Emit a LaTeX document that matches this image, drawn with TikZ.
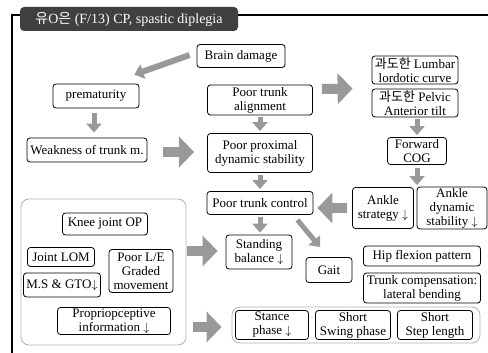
\documentclass[tikz,border=0pt]{standalone}
\usepackage{fontspec}
\setmainfont{Liberation Serif}
\newfontfamily\kr{Noto Sans CJK KR}
\usetikzlibrary{arrows.meta,calc}

\begin{document}
\begin{tikzpicture}[
    x=1pt, y=-1pt,
    font=\fontsize{13}{14}\selectfont,
    box/.style={
        draw,
        rounded corners=3pt,
        fill=white,
        line width=0.8pt,
        align=center,
        inner sep=1pt
    },
    group/.style={
        draw=gray!60,
        rounded corners=8pt,
        line width=0.8pt
    },
    arrowS/.style={
        draw=gray!80,
        line width=5pt,
        -{Triangle[width=15pt,length=9pt]}
    },
    arrowB/.style={
        draw=gray!80,
        line width=10pt,
        -{Triangle[width=30pt,length=15pt]}
    }
]
\useasboundingbox (0,0) rectangle (488,353);

% Frame and title
\draw[line width=2.5pt] (12,353) -- (12,15) -- (488,15);
\node[fill=black!75, text=white, rounded corners=4pt, minimum width=218, minimum height=24, font=\fontsize{14}{14}\selectfont] (title) at (129,19) {{\kr 유}O{\kr 은} (F/13) CP, spastic diplegia};

% Groups
\node[group, minimum width=165, minimum height=146] (causes) at (103.5,272) {};
\node[group, minimum width=248, minimum height=36] (gaitdev) at (356,325) {};

% Main column
\node[box, minimum width=88, minimum height=23] (brain) at (241,56) {Brain damage};
\node[box, minimum width=86, minimum height=24] (prem) at (96,96) {prematurity};
\node[box, minimum width=120, minimum height=24] (weak) at (87,150) {Weakness of trunk m.};
\node[box, minimum width=105, minimum height=30] (align) at (260,100) {Poor trunk\\alignment};
\node[box, minimum width=105, minimum height=39] (prox) at (260,153) {Poor proximal\\dynamic stability};
\node[box, minimum width=106, minimum height=23] (control) at (260,203) {Poor trunk control};
\node[box, minimum width=66, minimum height=34] (stand) at (259,252) {Standing\\balance $\downarrow$};
\node[box, minimum width=46, minimum height=25] (gait) at (329,270) {Gait};

% Right column
\node[box, minimum width=86, minimum height=28] (lumbar) at (415,70) {{\kr 과도한} Lumbar\\lordotic curve};
\node[box, minimum width=86, minimum height=28] (pelvic) at (415,103) {{\kr 과도한} Pelvic\\Anterior tilt};
\node[box, minimum width=59, minimum height=27] (cog) at (417,151) {Forward\\COG};
\node[box, minimum width=61, minimum height=41] (ankle) at (383,208) {Ankle\\strategy $\downarrow$};
\node[box, minimum width=70, minimum height=41] (ankledyn) at (452,208) {Ankle\\dynamic\\stability $\downarrow$};
\node[box, minimum width=117, minimum height=20] (hip) at (422,256) {Hip flexion pattern};
\node[box, minimum width=117, minimum height=30] (comp) at (422,288) {Trunk compensation:\\lateral bending};

% Left group
\node[box, minimum width=85, minimum height=22] (knee) at (105,224) {Knee joint OP};
\node[box, minimum width=67, minimum height=19] (lom) at (61,257) {Joint LOM};
\node[box, minimum width=77, minimum height=24] (gto) at (62,285) {M.S \& GTO$\downarrow$};
\node[box, minimum width=64, minimum height=43] (graded) at (141,271) {Poor L/E\\Graded\\movement};
\node[box, minimum width=113, minimum height=27] (proprio) at (114,321) {Propriopceptive\\information $\downarrow$};

% Bottom group
\node[box, minimum width=73, minimum height=29] (stance) at (272,325) {Stance\\phase $\downarrow$};
\node[box, minimum width=75, minimum height=29] (swing) at (353,325) {Short\\Swing phase};
\node[box, minimum width=75, minimum height=29] (step) at (435,325) {Short\\Step length};

% Arrows
\draw[arrowS, line width=6pt] ($(brain.west)+(-7,-1)$) -- ($(prem.north east)+(-5,-9)$);
\draw[arrowS] ($(prem.south)+(-2,5)$) -- ($(prem.south |- weak.north)+(-2,-5)$);
\draw[arrowS] ($(align.south)+(0,2)$) -- ($(prox.north)+(0,-2)$);
\draw[arrowS] ($(prox.south)+(0,2)$) -- ($(control.north)+(0,-2)$);
\draw[arrowS] ($(control.south)+(0,2)$) -- ($(control.south |- stand.north)+(0,-2)$);
\draw[arrowS] ($(control.south east)+(-16,5)$) -- ($(gait.north)+(-9,-10)$);
\draw[arrowS] ($(pelvic.south)+(2,2)$) -- ($(cog.north)+(0,-2)$);
\draw[arrowS] ($(cog.south)+(0,3)$) -- ($(cog.south |- ankle.north)+(0,-2)$);
\draw[arrowB] ($(weak.east)+(16,2)$) -- ($(prox.west)+(-13,-1)$);
\draw[arrowB] ($(align.east)+(9,-11)$) -- ($(pelvic.north west)+(-19,0)$);
\draw[arrowB] ($(ankle.west)+(-5,0)$) -- ($(control.east)+(4,5)$);
\draw[arrowB] ($(causes.east)+(1,-21)$) -- ($(stand.west)+(-8,-1)$);
\draw[arrowB] ($(causes.east)+(7,55)$) -- ($(gaitdev.west)+(-10,2)$);

\end{tikzpicture}
\end{document}
